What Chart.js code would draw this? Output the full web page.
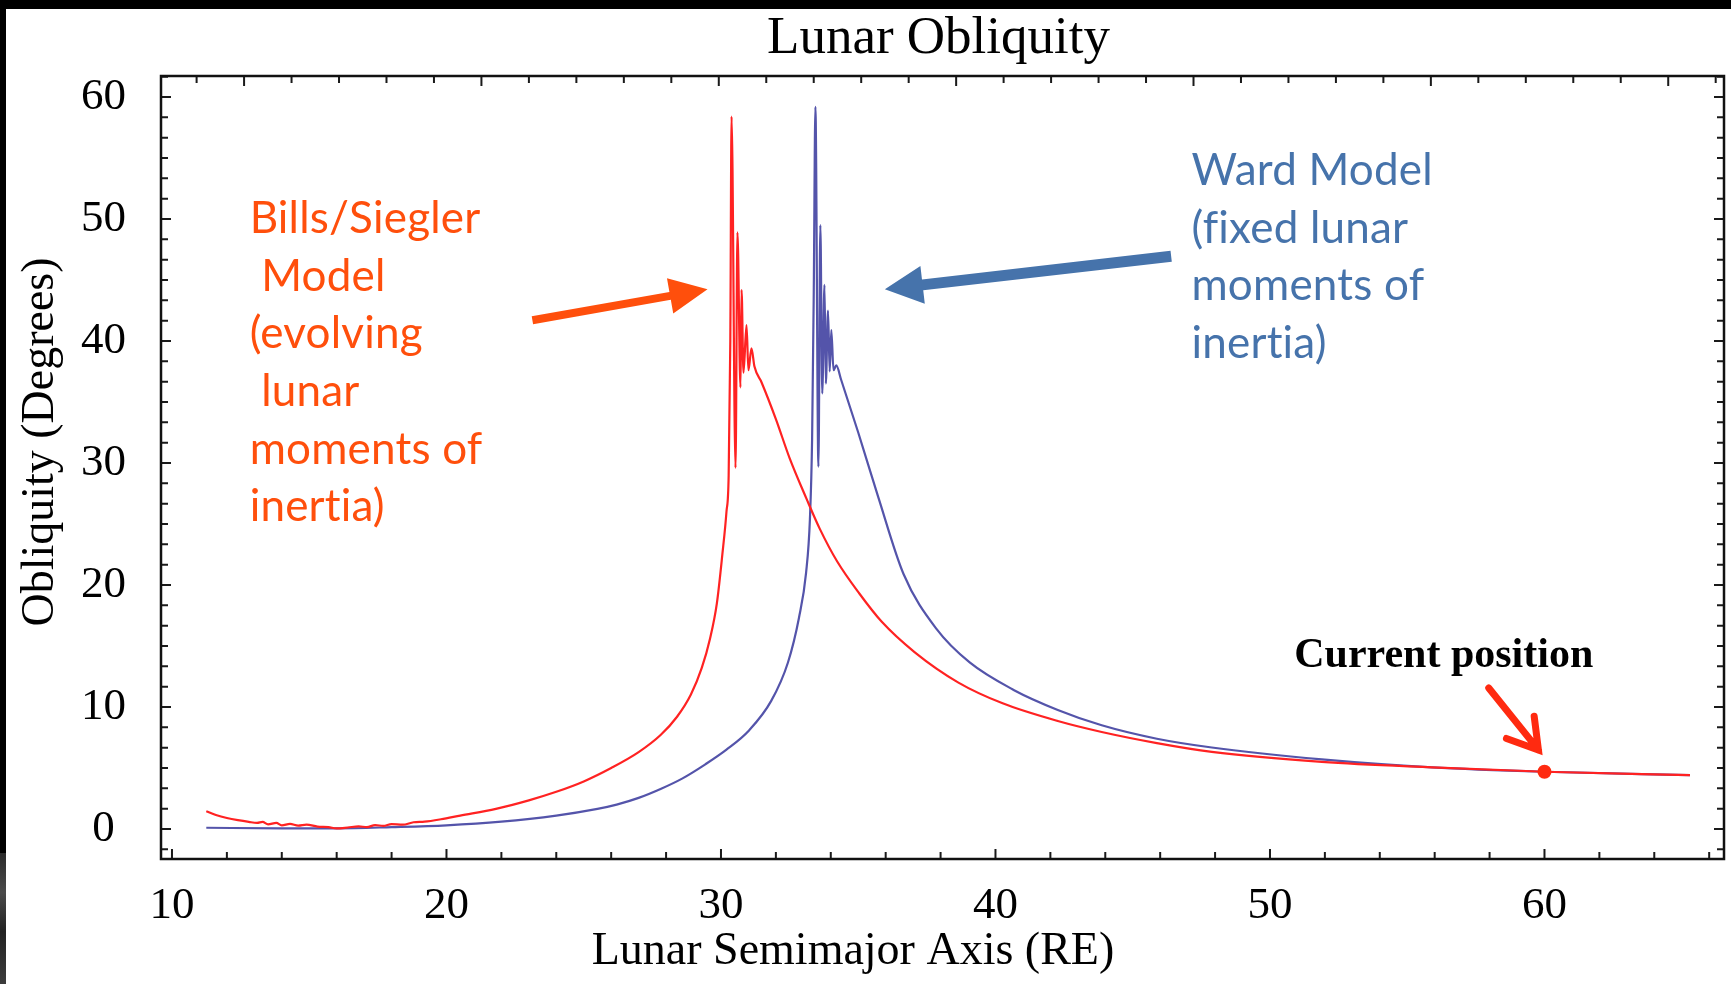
<!DOCTYPE html>
<html>
<head>
<meta charset="utf-8">
<title>Lunar Obliquity</title>
<script src="https://cdn.jsdelivr.net/npm/chart.js@4/dist/chart.umd.min.js"></script>
<style>
  html, body { margin: 0; padding: 0; background: #000; }
  body { width: 1731px; height: 984px; position: relative; overflow: hidden; }
  #sheet { position: absolute; left: 6px; top: 9px; right: 0; bottom: 0; background: #fff; }
  #edge { position: absolute; left: 0; top: 853px; width: 6px; bottom: 0;
          background: linear-gradient(#2a2a2a, #4a4a4a 30%, #222 60%, #3c3c3c); }
  #wrap { position: absolute; left: 0; top: 0; width: 1731px; height: 984px; }
</style>
</head>
<body>
<div id="sheet"></div>
<div id="edge"></div>
<div id="wrap"><canvas id="chart"></canvas></div>
<script>
// semimajor axis (Earth radii) and obliquity (degrees)
const billsX = [11.25, 11.6, 12.0, 12.4, 12.8, 13.1, 13.3, 13.5, 13.8, 14.0, 14.3, 14.6, 14.9, 15.3, 15.7, 16.0,
  16.4, 16.8, 17.1, 17.4, 17.7, 18.0, 18.4, 18.8, 19.2, 19.8, 20.5, 21.8, 23.0, 24.0, 25.0, 26.0, 27.0, 27.8,
  28.4, 28.9, 29.3, 29.6, 29.85, 30.05, 30.2, 30.28, 30.34, 30.385, 30.53, 30.6, 30.71, 30.75, 30.82, 30.93,
  31.0, 31.11, 31.22, 31.48, 32.0, 32.5, 33.11, 33.6, 34.24, 35.04, 35.85, 37.05, 38.65, 40.26, 42.27, 43.87,
  45.88, 47.88, 51.89, 55.9, 60.0, 65.3];
const billsY = [1.45, 1.15, 0.9, 0.72, 0.58, 0.5, 0.58, 0.38, 0.5, 0.3, 0.42, 0.28, 0.36, 0.2, 0.15, 0.05,
  0.12, 0.22, 0.15, 0.32, 0.25, 0.4, 0.35, 0.55, 0.6, 0.8, 1.1, 1.65, 2.35, 3.05, 3.9, 5.0, 6.3, 7.7,
  9.2, 11.0, 13.2, 15.6, 18.5, 22.5, 26.0, 29.0, 40.0, 58.4, 29.6, 48.9, 36.2, 44.2, 37.4, 41.3,
  37.6, 39.4, 37.9, 36.6, 33.6, 30.4, 27.1, 24.6, 21.9, 19.3, 17.0, 14.5, 12.0, 10.3, 8.85, 7.95,
  7.04, 6.32, 5.5, 5.05, 4.69, 4.42];

const wardX = [11.25, 14.0, 16.0, 18.0, 20.0, 22.0, 24.0, 25.5, 26.2, 27.0, 27.82, 28.6, 29.43, 30.2, 31.03, 31.83,
  32.44, 32.84, 33.1, 33.24, 33.32, 33.38, 33.44, 33.55, 33.62, 33.69, 33.77, 33.82, 33.9, 33.96, 34.02, 34.1,
  34.2, 34.38, 35.0, 35.73, 36.65, 37.85, 39.06, 40.66, 42.27, 43.87, 45.88, 47.88, 51.89, 55.9, 60.0, 65.3];
const wardY = [0.1, 0.05, 0.05, 0.15, 0.3, 0.6, 1.1, 1.65, 2.0, 2.55, 3.3, 4.15, 5.3, 6.5, 8.1, 10.5,
  13.65, 17.3, 21.0, 25.4, 32.0, 44.0, 59.2, 29.7, 49.5, 35.7, 44.6, 36.5, 42.5, 37.5, 40.9, 37.6,
  38.0, 36.8, 32.5, 27.2, 20.9, 16.4, 13.65, 11.4, 9.76, 8.5, 7.4, 6.68, 5.7, 5.05, 4.69, 4.42];

const nowX = 60.0;
const nowY = 4.69;

const tickLabels = [0, 10, 20, 30, 40, 50, 60];

const RED = "#ff2222";
const BLUE = "#5454aa";
const ORANGE = "#ff4f0c";
const STEEL = "#4673ab";
const HOT = "#ff2a10";
const SERIF = "'Liberation Serif', 'Times New Roman', serif";
const SANS = "Lato, 'Open Sans', sans-serif";

const pts = (xs, ys) => xs.map((x, i) => ({ x, y: ys[i] }));

// frame box with inward ticks on all four sides
const frame = {
  id: "frame",
  afterDatasetsDraw(chart) {
    const { ctx, chartArea: a, scales } = chart;
    const x = scales.x, y = scales.y, top = scales.xTop;
    ctx.save();
    ctx.strokeStyle = "#1a1a1a";
    ctx.lineWidth = 2;
    ctx.beginPath();
    for (let v = 10; v <= x.max; v += 2) {
      const px = x.getPixelForValue(v);
      const len = v % 10 === 0 ? 10 : 7;
      ctx.moveTo(px, a.bottom); ctx.lineTo(px, a.bottom - len);
    }
    for (let v = 8; v <= top.max; v += 2) {
      if (v < top.min) continue;
      const px = top.getPixelForValue(v);
      const len = v % 10 === 0 ? 10 : 7;
      ctx.moveTo(px, a.top); ctx.lineTo(px, a.top + len);
    }
    for (let k = -1; k * 10 / 6 <= y.max; k++) {
      const py = y.getPixelForValue(k * 10 / 6);
      const len = k % 6 === 0 ? 10 : 7;
      ctx.moveTo(a.left, py); ctx.lineTo(a.left + len, py);
      ctx.moveTo(a.right, py); ctx.lineTo(a.right - len, py);
    }
    ctx.stroke();
    ctx.lineWidth = 2.5;
    ctx.strokeStyle = "#111";
    ctx.strokeRect(a.left, a.top, a.right - a.left, a.bottom - a.top);
    ctx.restore();
  }
};

const arrow = (ctx, x0, y0, x1, y1, shaft, headLen, headHalf, color) => {
  const ang = Math.atan2(y1 - y0, x1 - x0);
  const len = Math.hypot(x1 - x0, y1 - y0);
  ctx.save();
  ctx.translate(x0, y0);
  ctx.rotate(ang);
  ctx.fillStyle = color;
  ctx.beginPath();
  ctx.moveTo(0, -shaft / 2);
  ctx.lineTo(len - headLen, -shaft / 2);
  ctx.lineTo(len - headLen, -headHalf);
  ctx.lineTo(len, 0);
  ctx.lineTo(len - headLen, headHalf);
  ctx.lineTo(len - headLen, shaft / 2);
  ctx.lineTo(0, shaft / 2);
  ctx.closePath();
  ctx.fill();
  ctx.restore();
};

const chevron = (ctx, x0, y0, x1, y1, width, arm, color) => {
  const ang = Math.atan2(y1 - y0, x1 - x0);
  ctx.save();
  ctx.strokeStyle = color;
  ctx.lineWidth = width;
  ctx.lineCap = "round";
  ctx.lineJoin = "miter";
  ctx.beginPath();
  ctx.moveTo(x0, y0);
  ctx.lineTo(x1, y1);
  ctx.moveTo(x1 - arm * Math.cos(ang - 0.55), y1 - arm * Math.sin(ang - 0.55));
  ctx.lineTo(x1, y1);
  ctx.lineTo(x1 - arm * Math.cos(ang + 0.55), y1 - arm * Math.sin(ang + 0.55));
  ctx.stroke();
  ctx.restore();
};

const lines = (ctx, rows, x, y, step) => {
  rows.forEach((r, i) => ctx.fillText(r, x, y + i * step));
};

// titles, callouts and arrows
const notes = {
  id: "notes",
  afterDraw(chart) {
    const { ctx, chartArea: a, scales } = chart;
    const X = v => scales.x.getPixelForValue(v);
    const Y = v => scales.y.getPixelForValue(v);
    ctx.save();
    ctx.fillStyle = "#000";
    ctx.textBaseline = "middle";
    ctx.textAlign = "center";
    ctx.font = `53px ${SERIF}`;
    ctx.fillText("Lunar Obliquity", (a.left + a.right) / 2 - 4, a.top - 37);
    ctx.font = `46px ${SERIF}`;
    ctx.fillText("Lunar Semimajor Axis (RE)", a.left + 692, a.bottom + 93);
    ctx.save();
    ctx.translate(41, a.top + 366);
    ctx.rotate(-Math.PI / 2);
    ctx.fillText("Obliquity (Degrees)", 0, 0);
    ctx.restore();

    ctx.font = `bold 42px ${SERIF}`;
    ctx.fillText("Current position", X(56.33), Y(14.18));

    ctx.textAlign = "left";
    ctx.letterSpacing = "0.2px";
    ctx.font = `44px ${SANS}`;
    ctx.fillStyle = ORANGE;
    lines(ctx, ["Bills/Siegler", " Model", "(evolving", " lunar", "moments of", "inertia)"], X(12.83), Y(50.0), 57.6);
    ctx.fillStyle = STEEL;
    lines(ctx, ["Ward Model", "(fixed lunar", "moments of", "inertia)"], X(47.14), Y(53.93), 57.6);
    ctx.letterSpacing = "0px";

    arrow(ctx, X(23.13), Y(41.7), X(29.51), Y(44.24), 8, 38, 18, ORANGE);
    arrow(ctx, X(46.4), Y(46.95), X(35.97), Y(44.24), 11, 38, 19, STEEL);
    chevron(ctx, X(57.97), Y(11.56), X(59.78), Y(6.48), 7, 34, HOT);
    ctx.restore();
  }
};

const ctx = document.getElementById("chart");

new Chart(ctx, {
  type: "scatter",
  data: {
    datasets: [
      { label: "Ward Model", data: pts(wardX, wardY), showLine: true, borderColor: BLUE, borderWidth: 2.2,
        cubicInterpolationMode: "monotone", pointRadius: 0, order: 3 },
      { label: "Bills/Siegler Model", data: pts(billsX, billsY), showLine: true, borderColor: RED, borderWidth: 2.2,
        cubicInterpolationMode: "monotone", pointRadius: 0, order: 2 },
      { label: "Current position", data: [{ x: nowX, y: nowY }], pointRadius: 7, pointBackgroundColor: HOT,
        pointBorderWidth: 0, order: 1 }
    ]
  },
  options: {
    animation: false,
    responsive: true,
    maintainAspectRatio: false,
    layout: { padding: { left: 0, top: 76, right: 3, bottom: 0 } },
    plugins: { legend: { display: false }, tooltip: { enabled: false } },
    scales: {
      x: {
        type: "linear", min: 9.6, max: 66.54,
        afterFit: s => { s.height = 125; },
        grid: { display: false, drawTicks: false },
        border: { display: false },
        afterBuildTicks: s => { s.ticks = tickLabels.filter(v => v >= 10).map(v => ({ value: v })); },
        ticks: { padding: 20, color: "#000", font: { family: SERIF, size: 45 } }
      },
      xTop: {
        type: "linear", position: "top", display: false, min: 6.5, max: 72.35
      },
      y: {
        min: -2.46, max: 61.72,
        afterFit: s => { s.width = 161; },
        grid: { display: false, drawTicks: false },
        border: { display: false },
        afterBuildTicks: s => { s.ticks = tickLabels.map(v => ({ value: v })); },
        ticks: { padding: 35, crossAlign: "center", color: "#000", font: { family: SERIF, size: 45 } }
      }
    }
  },
  plugins: [frame, notes]
});
</script>
</body>
</html>
